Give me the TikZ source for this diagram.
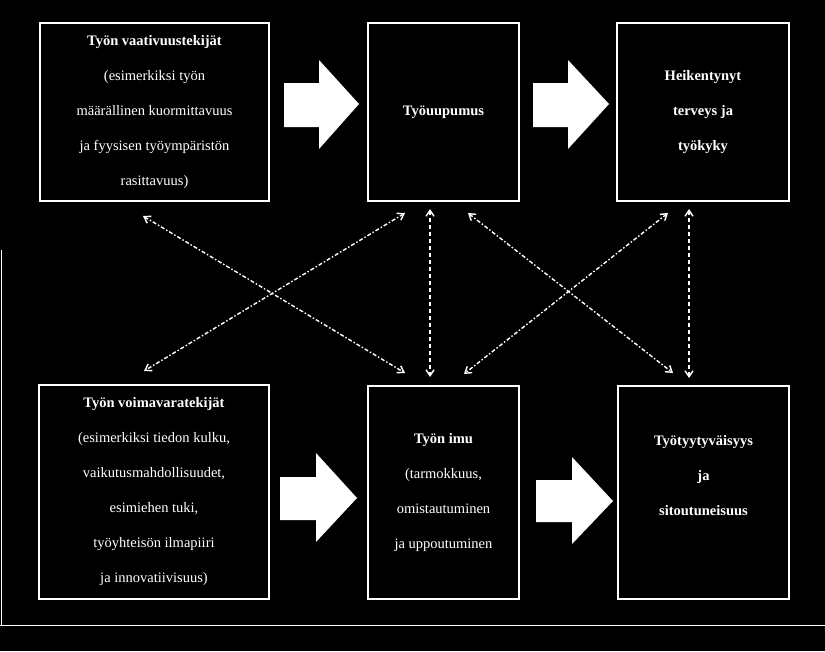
\documentclass[tikz,border=0pt]{standalone}
\usepackage{fontspec}
\setmainfont{Liberation Serif}
\usetikzlibrary{arrows.meta}
\begin{document}
\begin{tikzpicture}[x=1pt,y=-1pt,
  box/.style={draw=white,line width=2.5pt,fill=black,text=white,align=center,
    inner sep=0pt,font=\fontsize{14.5}{35}\selectfont},
  blockarrow/.style={fill=white,draw=none},
  dd/.style={draw=white,line width=1.4pt,{Straight Barb[length=6pt,width=8pt]}-{Straight Barb[length=6pt,width=8pt]},
    dash pattern=on 4pt off 2pt on 1.5pt off 2pt},
  vd/.style={draw=white,line width=1.4pt,{Straight Barb[length=6pt,width=8pt]}-{Straight Barb[length=6pt,width=8pt]},
    dash pattern=on 4.5pt off 2.5pt}]
\useasboundingbox (0,0) rectangle (825,651);
\fill[black] (0,0) rectangle (825,651);
% outer frame lines
\draw[white,line width=1pt] (0,625) -- (825,625);
\draw[white,line width=1pt] (1,250) -- (1,625);

\node[box,minimum width=229pt,minimum height=178pt] (b1) at (154.5,112)
  {\textbf{Työn vaativuustekijät}\\(esimerkiksi työn\\määrällinen kuormittavuus\\ja fyysisen työympäristön\\rasittavuus)};
\node[box,minimum width=151pt,minimum height=178pt] (b2) at (443.5,112)
  {\textbf{Työuupumus}};
\node[box,minimum width=172pt,minimum height=178pt] (b3) at (703,112)
  {\textbf{Heikentynyt}\\\textbf{terveys ja}\\\textbf{työkyky}};
\node[box,minimum width=230pt,minimum height=214pt] (b4) at (154,492)
  {\textbf{Työn voimavaratekijät}\\(esimerkiksi tiedon kulku,\\vaikutusmahdollisuudet,\\esimiehen tuki,\\työyhteisön ilmapiiri\\ja innovatiivisuus)};
\node[box,minimum width=151pt,minimum height=213pt] (b5) at (443.5,492.5)
  {\textbf{Työn imu}\\(tarmokkuus,\\omistautuminen\\ja uppoutuminen};
\node[box,minimum width=171pt,minimum height=213pt] (b6) at (703.5,492.5)
  {\textbf{Työtyytyväisyys}\\\textbf{ja}\\\textbf{sitoutuneisuus}\\\mbox{}};

% block arrows
\fill[blockarrow] (284,83) -- (319,83) -- (319,60) -- (359,104) -- (319,149) -- (319,127) -- (284,127) -- cycle;
\fill[blockarrow] (533,83) -- (568,83) -- (568,60) -- (609,104) -- (568,149) -- (568,127) -- (533,127) -- cycle;
\fill[blockarrow] (280,477) -- (316,477) -- (316,453) -- (357,498) -- (316,542) -- (316,520) -- (280,520) -- cycle;
\fill[blockarrow] (536,480) -- (572,480) -- (572,457) -- (613,501) -- (572,544) -- (572,522) -- (536,522) -- cycle;

% dashed double arrows
\coordinate (a1) at (143,216); \coordinate (a2) at (405,373);
\coordinate (c1) at (405,213); \coordinate (c2) at (144,371);
\coordinate (v1) at (430,209); \coordinate (v2) at (430,377);
\coordinate (e1) at (468,213); \coordinate (e2) at (673,373);
\coordinate (f1) at (668,213); \coordinate (f2) at (464,374);
\coordinate (w1) at (689,209); \coordinate (w2) at (689,378);
\draw[dd] (a1) -- (a2);
\draw[dd] (c1) -- (c2);
\draw[vd] (v1) -- (v2);
\draw[dd] (e1) -- (e2);
\draw[dd] (f1) -- (f2);
\draw[vd] (w1) -- (w2);
\end{tikzpicture}
\end{document}
